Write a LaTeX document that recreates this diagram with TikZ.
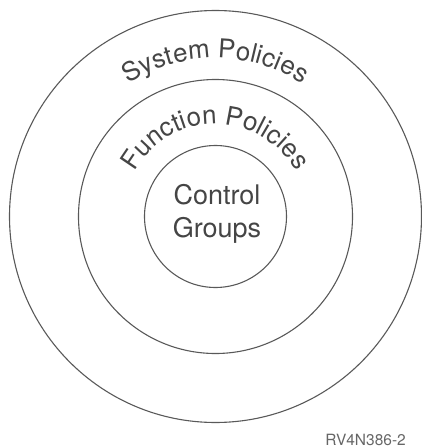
\documentclass[tikz,border=0pt]{standalone}
\usepackage{fontspec}
\setmainfont{TeX Gyre Heros}
\usetikzlibrary{decorations.text}
\definecolor{trait}{gray}{0.35}
\definecolor{texte}{gray}{0.27}
\begin{document}
\begin{tikzpicture}[x=1pt,y=1pt]
            \useasboundingbox (-215.5,-231.5) rectangle (206.5,216.5);
            \draw [trait,line width=1.1pt] (0,0) circle [radius=206pt];
            \draw [trait,line width=1.1pt] (0,0) circle [radius=137pt];
            \draw [trait,line width=1.1pt] (0,0) circle [radius=71pt];
            \begin{scope}
            \fontsize{26}{30}\selectfont
            \path [decorate,decoration={text along path,text align=center,text color=texte,
                text={System Policies}}]
                (180:158.5pt) arc [start angle=180,end angle=0,radius=158.5pt];
            \path [decorate,decoration={text along path,text align=center,text color=texte,
                text={Function Policies}}]
                (180:92.5pt) arc [start angle=180,end angle=0,radius=92.5pt];
            \end{scope}
            \node (groupes) [texte,align=center,font={\fontsize{27}{33}\selectfont}] at (1.5,3) {Control\\Groups};
            \node (ref) [anchor=base east,inner sep=0pt,black!60,font={\fontsize{15.5}{18}\selectfont}] at (190.5,-229) {RV4N386-2};
            % \draw [dotted,step=50pt] (-200,-200) grid (200,200);
        \end{tikzpicture}
\end{document}
